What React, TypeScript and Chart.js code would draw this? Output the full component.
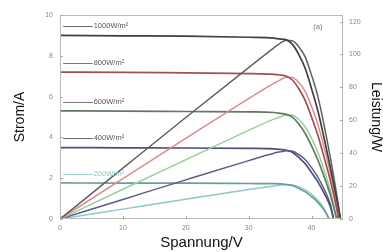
import React, { useEffect, useRef } from 'react';
import { Chart, registerables } from 'chart.js';

Chart.register(...registerables);

// Irradiance levels
const irradianceLabels = ['1000W/m²', '800W/m²', '600W/m²', '400W/m²', '200W/m²'];

// 1000 W/m²
const volts1000 = [0, 10, 20, 30, 34, 35, 36, 37, 38, 39, 40, 41, 42, 43, 44, 44.6];
const amps1000 = [9.0, 8.98, 8.96, 8.91, 8.87, 8.82, 8.78, 8.55, 8.05, 7.38, 6.39, 5.31, 3.96, 2.52, 0.99, 0];
const watts1000 = [0, 30.9, 61.7, 92.0, 104.0, 106.8, 108.6, 108.2, 104.6, 98.4, 87.4, 74.5, 56.9, 37.1, 14.9, 0];

// 800 W/m²
const volts800 = [0, 10, 20, 30, 34, 35, 36, 37, 38, 39, 40, 41, 42, 43, 44, 44.3];
const amps800 = [7.2, 7.19, 7.16, 7.13, 7.09, 7.06, 7.0, 6.8, 6.37, 5.8, 5.0, 4.1, 3.02, 1.87, 0.5, 0];
const watts800 = [0, 24.6, 49.0, 73.2, 82.4, 84.5, 86.2, 86.0, 82.8, 77.4, 68.4, 57.5, 43.4, 27.5, 7.5, 0];

// 600 W/m²
const volts600 = [0, 10, 20, 30, 34, 35, 36, 37, 38, 39, 40, 41, 42, 43, 44];
const amps600 = [5.3, 5.29, 5.27, 5.25, 5.22, 5.18, 5.13, 4.98, 4.64, 4.19, 3.58, 2.89, 2.07, 1.17, 0];
const watts600 = [0, 18.1, 36.0, 53.9, 60.7, 62.0, 63.2, 63.0, 60.3, 55.9, 49.0, 40.5, 29.7, 17.2, 0];

// 400 W/m²
const volts400 = [0, 10, 20, 30, 34, 35, 36, 37, 38, 39, 40, 41, 42, 43, 43.5];
const amps400 = [3.5, 3.49, 3.48, 3.46, 3.44, 3.41, 3.37, 3.26, 3.01, 2.7, 2.28, 1.82, 1.26, 0.6, 0];
const watts400 = [0, 11.9, 23.8, 35.5, 40.0, 40.8, 41.5, 41.2, 39.1, 36.0, 31.2, 25.5, 18.1, 8.8, 0];

// 200 W/m²
const volts200 = [0, 10, 20, 30, 34, 35, 36, 37, 38, 39, 40, 41, 42, 42.8];
const amps200 = [1.77, 1.76, 1.76, 1.74, 1.73, 1.72, 1.69, 1.63, 1.5, 1.33, 1.1, 0.81, 0.44, 0];
const watts200 = [0, 6.0, 12.0, 17.9, 20.1, 20.6, 20.8, 20.6, 19.5, 17.7, 15.0, 11.4, 6.3, 0];

// Tick labels
const xTicks = [0, 10, 20, 30, 40];
const yTicks = [0, 2, 4, 6, 8, 10];
const y1Ticks = [0, 20, 40, 60, 80, 100, 120];

const panelLabel = '(a)';

const groups = [
  { label: irradianceLabels[0], v: volts1000, i: amps1000, p: watts1000, iColor: '#404040', pColor: '#606060', tagLine: '#666', tagText: '#555' },
  { label: irradianceLabels[1], v: volts800, i: amps800, p: watts800, iColor: '#a05050', pColor: '#dc8a8a', tagLine: '#777', tagText: '#555' },
  { label: irradianceLabels[2], v: volts600, i: amps600, p: watts600, iColor: '#627862', pColor: '#98d098', tagLine: '#777', tagText: '#555' },
  { label: irradianceLabels[3], v: volts400, i: amps400, p: watts400, iColor: '#505074', pColor: '#5c5c8a', tagLine: '#666', tagText: '#555' },
  { label: irradianceLabels[4], v: volts200, i: amps200, p: watts200, iColor: '#64a0a0', pColor: '#8cc8c8', tagLine: '#9cd0d0', tagText: '#8cc4c4' },
];

const FONT = "'Liberation Sans', Arial, sans-serif";

const framePlugin = {
  id: 'frame',
  afterDatasetsDraw(chart: any) {
    const { ctx, chartArea } = chart;
    ctx.save();
    ctx.strokeStyle = '#bbbbbb';
    ctx.lineWidth = 1;
    ctx.strokeRect(chartArea.left + 0.5, chartArea.top + 0.5, chartArea.right - chartArea.left - 1, chartArea.bottom - chartArea.top - 1);
    // small inward tick marks
    ctx.strokeStyle = '#aaaaaa';
    const xs = chart.scales.x, ys = chart.scales.y, y1 = chart.scales.y1;
    ctx.beginPath();
    xTicks.forEach((v) => {
      const px = Math.round(xs.getPixelForValue(v)) + 0.5;
      ctx.moveTo(px, chartArea.bottom);
      ctx.lineTo(px, chartArea.bottom - 3);
    });
    yTicks.forEach((v) => {
      const py = Math.round(ys.getPixelForValue(v)) + 0.5;
      ctx.moveTo(chartArea.left, py);
      ctx.lineTo(chartArea.left + 3, py);
    });
    y1Ticks.forEach((v) => {
      const py = Math.round(y1.getPixelForValue(v)) + 0.5;
      ctx.moveTo(chartArea.right, py);
      ctx.lineTo(chartArea.right - 3, py);
    });
    ctx.stroke();
    ctx.restore();
  },
};

const tagPlugin = {
  id: 'tags',
  afterDatasetsDraw(chart: any) {
    const { ctx } = chart;
    const xs = chart.scales.x;
    const ys = chart.scales.y;
    ctx.save();
    ctx.font = `7.5px ${FONT}`;
    ctx.textBaseline = 'middle';
    groups.forEach((g) => {
      const yy = ys.getPixelForValue(g.i[0] + 0.45);
      const x0 = xs.getPixelForValue(0.5);
      const x1 = xs.getPixelForValue(5.2);
      ctx.strokeStyle = g.tagLine;
      ctx.lineWidth = 1;
      ctx.beginPath();
      ctx.moveTo(x0, Math.round(yy) + 0.5);
      ctx.lineTo(x1, Math.round(yy) + 0.5);
      ctx.stroke();
      ctx.fillStyle = g.tagText;
      ctx.textAlign = 'left';
      ctx.fillText(g.label, x1 + 1, yy);
    });
    ctx.fillStyle = '#777';
    ctx.textAlign = 'center';
    ctx.fillText(panelLabel, xs.getPixelForValue(41), ys.getPixelForValue(9.4));
    ctx.restore();
  },
};

export default function App() {
  const ref = useRef<HTMLCanvasElement | null>(null);

  useEffect(() => {
    if (!ref.current) return;
    const datasets: any[] = [];
    groups.forEach((g) => {
      datasets.push({
        label: g.label + ' I',
        data: g.v.map((v, k) => ({ x: v, y: g.i[k] })),
        borderColor: g.iColor,
        borderWidth: 1.7,
        pointRadius: 0,
        cubicInterpolationMode: 'monotone',
        yAxisID: 'y',
        fill: false,
      });
      datasets.push({
        label: g.label + ' P',
        data: g.v.map((v, k) => ({ x: v, y: g.p[k] })),
        borderColor: g.pColor,
        borderWidth: 1.5,
        pointRadius: 0,
        cubicInterpolationMode: 'monotone',
        yAxisID: 'y1',
        fill: false,
      });
    });

    const tickFont = { family: FONT, size: 7 };
    const titleFont = { family: FONT, size: 14, lineHeight: 1 };

    const chart = new Chart(ref.current, {
      type: 'line',
      data: { datasets },
      plugins: [framePlugin, tagPlugin],
      options: {
        animation: false,
        responsive: false,
        devicePixelRatio: 1,
        layout: { padding: { top: 15, right: 0, bottom: 0, left: 0 } },
        plugins: { legend: { display: false }, tooltip: { enabled: false } },
        scales: {
          x: {
            type: 'linear',
            min: 0,
            max: 45,
            grid: { display: false, drawTicks: false },
            border: { display: false },
            ticks: { font: tickFont, color: '#888', padding: 5, maxRotation: 0 },
            afterBuildTicks: (s: any) => { s.ticks = xTicks.map((v) => ({ value: v })); },
            afterFit: (s: any) => { s.height = 33; },
            title: { display: true, text: 'Spannung/V', font: { family: FONT, size: 15, lineHeight: 1 }, color: '#111', padding: { top: 0, bottom: 2 } },
          },
          y: {
            type: 'linear',
            position: 'left',
            min: 0,
            max: 10,
            grid: { display: false, drawTicks: false },
            border: { display: false },
            ticks: { font: tickFont, color: '#888', padding: 7 },
            afterBuildTicks: (s: any) => { s.ticks = yTicks.map((v) => ({ value: v })); },
            afterFit: (s: any) => { s.width = 60; },
            title: { display: true, text: 'Strom/A', font: titleFont, color: '#111', padding: { top: 13, bottom: 0 } },
          },
          y1: {
            type: 'linear',
            position: 'right',
            min: 0,
            max: 124,
            grid: { display: false, drawTicks: false },
            border: { display: false },
            ticks: { font: tickFont, color: '#888', padding: 6 },
            afterBuildTicks: (s: any) => { s.ticks = y1Ticks.map((v) => ({ value: v })); },
            afterFit: (s: any) => { s.width = 40; },
            title: { display: true, text: 'Leistung/W', font: titleFont, color: '#111', padding: { top: 0, bottom: 0 } },
          },
        },
      } as any,
    });
    return () => chart.destroy();
  }, []);

  return (
    <div style={{ position: 'absolute', left: 0, top: 0, width: 383, height: 252, background: '#fff' }}>
      <canvas ref={ref} width={383} height={252} style={{ width: 383, height: 252, display: 'block' }} />
    </div>
  );
}
